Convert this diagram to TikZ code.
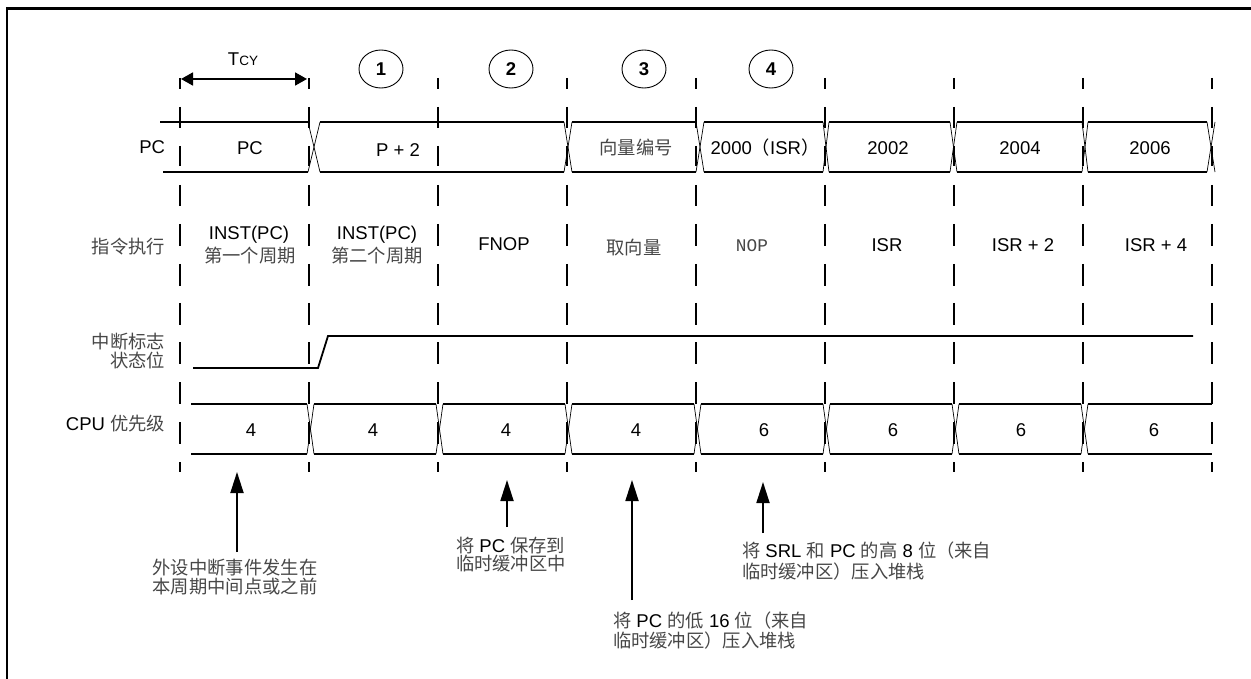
\documentclass[tikz,border=0pt]{standalone}
\usepackage{fontspec}
\setmainfont{Liberation Sans}
\newfontfamily\cjkf{Noto Sans CJK SC}
\newfontfamily\monof{Liberation Mono}
\usetikzlibrary{arrows.meta,shapes.geometric}
\definecolor{zhgray}{gray}{0.28}
\newcommand{\zh}[1]{{\cjkf\fontsize{18.3}{19}\selectfont\color{zhgray}#1}}
\newcommand{\zhk}[1]{{\cjkf\fontsize{18.3}{19}\selectfont #1}}
\begin{document}
\begin{tikzpicture}[x=1pt,y=-1pt,
  font=\fontsize{18.5}{22}\selectfont,
  sig/.style={line width=1.8pt},
  xln/.style={line width=0.7pt},
  dsh/.style={line width=1.6pt},
  frm/.style={line width=2.4pt},
  txt/.style={inner sep=0pt,outer sep=0pt,anchor=base},
  num/.style={draw,ellipse,line width=0.9pt,minimum width=44pt,minimum height=38pt,inner sep=0pt,font=\fontsize{18.5}{22}\selectfont\bfseries},
  ann/.style={line width=1.8pt,-{Triangle[length=21pt,width=13pt]}},
  tcy/.style={line width=1.8pt,{Triangle[length=12pt,width=13pt]}-{Triangle[length=12pt,width=13pt]}}
]
\useasboundingbox (0,0) rectangle (1251,679);

% frame
\draw[frm] (1260,8.5) -- (7,8.5) -- (7,690);

% vertical dashed cycle lines
\foreach \x in {180,309,438,567,696,825,954,1083,1212}
  \foreach \a/\b in {78/89,107/128,146/166,185/206,224/246,264/286,303/325,342/364,382/404,422/444,462/472}
    \draw[dsh] (\x,\a) -- (\x,\b);

% TCY
\coordinate (tl) at (181,79);
\coordinate (tr) at (307,79);
\draw[tcy] (tl) -- (tr);
\node[txt] (tcyl) at (243,66) {T{\fontsize{13.5}{15}\selectfont CY}};

% numbered circles
\node[num] (c1) at (381,69) {1};
\node[num] (c2) at (511,69) {2};
\node[num] (c3) at (644,69) {3};
\node[num] (c4) at (771,69) {4};

% PC row
\node[txt,anchor=base east] (lpc) at (165,154) {PC};
\draw[sig] (160,122) -- (308,122);
\draw[sig] (163,172) -- (308,172);
\foreach \a/\b in {320/564,572/696,704/823,829/950,957/1082,1088/1207}{
  \draw[sig] (\a,122) -- (\b,122);
  \draw[sig] (\a,172) -- (\b,172);
}
\foreach \a/\b in {308/320,564/572,696/704,823/829,950/957,1082/1088,1207/1215}{
  \draw[xln] (\a,122) -- (\b,172);
  \draw[xln] (\a,172) -- (\b,122);
}
\node[txt] (pc0) at (250,155) {PC};
\node[txt] (pc1) at (398,157) {P + 2};
\node[txt] (pc3) at (636,155) {\zh{向量编号}};
\node[txt] (pc4) at (765,155) {2000\zhk{（}ISR\zhk{）}};
\node[txt] (pc5) at (888,155) {2002};
\node[txt] (pc6) at (1020,155) {2004};
\node[txt] (pc7) at (1150,155) {2006};

% instruction row
\node[txt,anchor=base east] (lins) at (165,254) {\zh{指令执行}};
\node[txt] (i1a) at (249,240) {INST(PC)};
\node[txt] (i1b) at (250,262) {\zh{第一个周期}};
\node[txt] (i2a) at (377,240) {INST(PC)};
\node[txt] (i2b) at (377,262) {\zh{第二个周期}};
\node[txt] (i3) at (504,251) {FNOP};
\node[txt] (i4) at (634,255) {\zh{取向量}};
\node[txt] (i5) at (752,252) {\monof\fontsize{17.8}{20}\selectfont\color{zhgray}NOP};
\node[txt] (i6) at (887,251.5) {ISR};
\node[txt] (i7) at (1023,251.5) {ISR + 2};
\node[txt] (i8) at (1156,251.5) {ISR + 4};

% interrupt flag row
\node[txt,anchor=base east] (lf1) at (165,348) {\zh{中断标志}};
\node[txt,anchor=base east] (lf2) at (165,367) {\zh{状态位}};
\draw[sig] (193,368) -- (318,368) -- (328,336) -- (1193,336);

% CPU priority row
\node[txt,anchor=base east] (lcpu) at (165,430) {CPU \zh{优先级}};
\foreach \a/\b in {191/307,314/436,443/565,572/694,701/823,830/952,959/1081,1088/1212}{
  \draw[sig] (\a,404) -- (\b,404);
  \draw[sig] (\a,454) -- (\b,454);
}
\foreach \a/\b in {307/314,436/443,565/572,694/701,823/830,952/959,1081/1088}{
  \draw[xln] (\a,404) -- (\b,454);
  \draw[xln] (\a,454) -- (\b,404);
}
\node[txt] (p1) at (251,436.6) {4};
\node[txt] (p2) at (373,436.6) {4};
\node[txt] (p3) at (506,436.6) {4};
\node[txt] (p4) at (636,436.6) {4};
\node[txt] (p5) at (764,436.6) {6};
\node[txt] (p6) at (893,436.6) {6};
\node[txt] (p7) at (1021,436.6) {6};
\node[txt] (p8) at (1154,436.6) {6};

% annotations
\node[txt] (a1a) at (235,574) {\zh{外设中断事件发生在}};
\node[txt] (a1b) at (235,593) {\zh{本周期中间点或之前}};
\coordinate (a1s) at (237,552);
\coordinate (a1t) at (237,472);
\draw[ann] (a1s) -- (a1t);

\node[txt,anchor=base west] (a2a) at (456,552) {\zh{将} PC \zh{保存到}};
\node[txt,anchor=base west] (a2b) at (456,570) {\zh{临时缓冲区中}};
\coordinate (a2s) at (507,527);
\coordinate (a2t) at (507,480);
\draw[ann] (a2s) -- (a2t);

\node[txt,anchor=base west] (a3a) at (613,627) {\zh{将} PC \zh{的低} 16 \zh{位（来自}};
\node[txt,anchor=base west] (a3b) at (613,647) {\zh{临时缓冲区）压入堆栈}};
\coordinate (a3s) at (632,600);
\coordinate (a3t) at (632,480);
\draw[ann] (a3s) -- (a3t);

\node[txt,anchor=base west] (a4a) at (742,557) {\zh{将} SRL \zh{和} PC \zh{的高} 8 \zh{位（来自}};
\node[txt,anchor=base west] (a4b) at (742,578) {\zh{临时缓冲区）压入堆栈}};
\coordinate (a4s) at (763,533);
\coordinate (a4t) at (763,482);
\draw[ann] (a4s) -- (a4t);
\end{tikzpicture}
\end{document}
